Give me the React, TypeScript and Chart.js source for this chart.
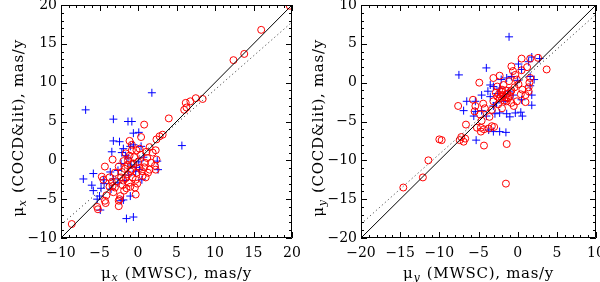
import React, { useEffect, useRef } from "react";
import { Chart, registerables } from "chart.js";

Chart.register(...registerables);

// ---------- data: left panel (mu_x) ----------
const leftRedX = [
  19.7, 16.0, 13.8, 12.4, 8.4, 7.5, 6.8, 6.2, 6.3, 6.0,
  4.0, 0.8, 3.2, 2.8, 2.4, 0.4, -1.1, -8.6, -5.3, -5.2,
  -4.2, -2.5, -2.5, -4.1, -4.3, 2.3, 0.2, -3.3, -0.8, -0.6,
  -4.7, -4.5, -3.4, -3.0, -3.2, -2.3, -4.3, -2.4, -0.4, -1.0,
  -1.9, 2.2, 2.3, 1.5, 0.9, 1.2, 0.4, -0.2, 2.4, -1.3,
  -1.7, -2.1, -2.5, -3.0, -1.3, -0.8, -0.2, 0.2, 0.6, -0.7,
  -1.2, -0.3, -0.3, -1.5, -1.8, -3.7, 1.5, 1.9, 1.1, 1.7,
  -1.1, -0.8, -1.6, -1.9, -3.3, -3.7, 1.0, 0.0, -0.5, -1.4,
  -2.2, -0.9, 1.3, 0.5, -2.8, -1.0, -0.1, -2.0, 0.8, -1.6,
];
const leftRedY = [
  19.9, 16.8, 13.7, 12.9, 7.9, 8.0, 7.6, 7.4, 6.8, 6.5,
  5.4, 4.6, 3.3, 3.1, 2.7, 3.0, 2.5, -8.2, -6.0, -6.3,
  -5.5, -5.2, -5.9, -4.5, -0.8, 1.3, 1.5, 0.1, 2.0, -0.4,
  -2.1, -2.5, -2.8, -3.5, -4.1, -4.6, -5.2, -5.0, -3.5, -3.4,
  -2.6, -0.7, -1.2, -1.2, -0.3, 0.3, 0.7, 1.3, 0.1, 0.0,
  -1.1, -1.5, -0.8, -1.6, -1.8, -1.2, -1.6, -1.0, -2.0, -2.2,
  -2.9, -2.5, -4.4, -3.6, -3.9, -3.4, 1.7, 1.0, 1.1, -0.3,
  0.6, 1.3, 0.9, -0.1, -3.3, -2.2, -2.2, -0.2, 0.4, -0.6,
  -2.2, -0.5, -1.6, -1.4, -2.7, -1.4, -3.0, -3.2, -0.9, -2.3,
];
const leftBlueX = [
  1.8, -6.8, -3.2, -1.3, -0.8, 0.1, -0.6, -3.2, -2.4, 5.7,
  -3.4, -1.9, -2.1, -1.6, -1.0, -0.6, 0.4, 2.5, 2.6, -2.2,
  -2.6, -3.6, -3.2, -7.1, -5.8, -6.0, -5.8, -4.8, -5.0, -4.5,
  -5.3, -3.5, -1.0, -1.9, -4.9, -1.5, -0.6, 0.5, 0.2, -0.3,
  -0.9, 0.1, 0.7, -1.2, -1.7, -2.6, -0.2, -2.2, -4.4, -1.3,
];
const leftBlueY = [
  8.7, 6.5, 5.3, 5.0, 5.0, 3.6, 3.5, 2.5, 2.4, 1.9,
  1.1, 1.5, 1.0, 0.6, 1.8, 2.0, 1.8, -0.1, -1.2, -0.4,
  -1.3, -1.5, -2.4, -2.4, -1.7, -3.2, -3.9, -3.6, -4.6, -2.5,
  -5.0, -3.7, -4.6, -5.1, -6.4, -7.5, -7.3, -2.5, -1.2, -1.4,
  -0.6, -0.2, 0.4, -1.9, -2.6, -2.9, -0.9, -5.2, -3.0, 0.3,
];
const leftLineX = [-10, 20];
const leftSolidY = [-10, 20];
const leftDottedY = [-8.3, 17.8];

// ---------- data: right panel (mu_y) ----------
const rightRedX = [
  -9.7, -7.4, -6.9, -6.7, -7.2, -6.6, -7.6, -4.9, -4.3, -1.4,
  -3.1, -2.3, 0.5, 1.6, 2.6, 3.7, -0.8, -0.6, 0.5, 1.6,
  1.5, 1.4, 1.4, 1.0, 0.4, -5.7, -5.4, -5.5, -4.8, -4.6,
  -5.2, -4.3, -4.7, -3.7, -3.3, -4.2, -3.3, -4.4, -3.1, -2.5,
  -2.8, -2.0, -2.6, -1.8, -2.1, -1.4, -1.4, -0.8, -0.1, -0.8,
  -0.4, 0.1, 0.6, -0.1, -1.1, -1.9, -1.6, -1.3, -1.0, -2.3,
  -1.7, -1.2, -0.9, -2.0, -1.5, -2.6, -2.4, -11.4, -12.1, -14.6,
  -1.5, -10.0, -4.7, -3.0, -2.0, -0.5, 1.0, -3.6, -0.3, 1.2,
];
const rightRedY = [
  -7.4, -7.4, -7.6, -7.2, -7.0, -5.4, -3.0, 0.0, -8.1, -7.9,
  0.6, 0.9, 3.1, 3.1, 3.2, 1.7, 2.1, 1.5, 1.6, 0.6,
  0.0, -0.6, -1.1, -1.6, -1.5, -2.2, -3.0, -3.7, -4.1, -4.9,
  -5.8, -6.0, -6.3, -5.9, -5.6, -3.3, -3.5, -2.7, -2.4, -2.8,
  -1.3, -0.9, -0.5, -0.3, -1.8, -1.9, -2.4, -2.6, -2.4, -1.0,
  -0.6, -0.2, -0.9, 0.4, 0.2, -1.6, -1.9, -1.4, -1.7, -2.0,
  -2.3, -2.0, -1.2, -1.2, -1.0, -1.8, -1.5, -10.0, -12.2, -13.5,
  -13.0, -7.3, -5.8, -5.7, -3.3, -3.0, -2.5, -4.4, 1.0, 2.0,
];
const rightBlueX = [
  -1.1, -7.5, -4.0, 1.8, 2.8, 1.4, 0.1, 0.5, 1.6, 2.1,
  1.6, 1.8, 1.8, 0.5, 0.4, 0.6, -6.5, -6.9, -5.4, -4.6,
  -3.5, -3.8, -3.1, -2.3, -3.5, -1.4, -0.8, -2.1, -1.2, -1.8,
  -2.7, -3.1, -4.6, -4.0, -2.9, -2.3, -1.4, -1.0, -0.3, -5.3,
  -3.7, -3.1, -2.3, -1.5, -5.4, -5.6, 0.0, -1.6, -0.6, -2.6,
];
const rightBlueY = [
  5.9, 1.0, 1.9, 3.3, 3.1, 2.7, 2.4, 1.7, 0.8, 0.4,
  -0.4, -1.6, -2.9, -2.2, -3.8, -4.3, -2.4, -3.6, -2.4, -1.6,
  -1.8, -1.1, -0.5, -0.7, -0.3, 0.6, 0.8, 0.4, -1.1, -1.8,
  -2.6, -3.0, -3.6, -4.3, -4.0, -3.9, -4.0, -4.4, -3.9, -7.4,
  -6.1, -6.3, -6.3, -6.4, -3.7, -4.3, 0.3, -2.4, -1.6, -1.4,
];
const rightLineX = [-20, 10];
const rightSolidY = [-20, 10];
const rightDottedY = [-18.2, 8.8];

// ---------- axes / labels ----------
const leftRange = [-10, 20];
const rightRange = [-20, 10];
const tickStep = 5;
const minorStep = 1;
const leftXTitle = ["μ", "x", " (MWSC), mas/y"];
const leftYTitle = ["μ", "x", " (COCD&lit), mas/y"];
const rightXTitle = ["μ", "y", " (MWSC), mas/y"];
const rightYTitle = ["μ", "y", " (COCD&lit), mas/y"];

const FONT = "'DejaVu Serif', 'Liberation Serif', serif";

const zip = (xs: number[], ys: number[]) => xs.map((x, i) => ({ x, y: ys[i] }));

function drawSubTitle(ctx: CanvasRenderingContext2D, parts: string[], cx: number, cy: number, rotate: boolean) {
  const [sym, sub, rest] = parts;
  const main = `15px ${FONT}`;
  const small = `italic 11px ${FONT}`;
  ctx.save();
  (ctx as any).letterSpacing = "0.7px";
  ctx.font = main;
  const w1 = ctx.measureText(sym).width;
  ctx.font = small;
  const w2 = ctx.measureText(sub).width;
  ctx.font = main;
  const w3 = ctx.measureText(rest).width;
  const total = w1 + w2 + w3 + 1;
  ctx.translate(cx, cy);
  if (rotate) ctx.rotate(-Math.PI / 2);
  ctx.fillStyle = "#000";
  ctx.textBaseline = "alphabetic";
  ctx.textAlign = "left";
  let x = -total / 2;
  ctx.font = main;
  ctx.fillText(sym, x, 0);
  x += w1;
  ctx.font = small;
  ctx.fillText(sub, x, 3);
  x += w2 + 1;
  ctx.font = main;
  ctx.fillText(rest, x, 0);
  ctx.restore();
}

const framePlugin = {
  id: "frame",
  afterDatasetsDraw(chart: any, _args: any, opts: any) {
    const { ctx, chartArea: a, scales } = chart;
    const xs = scales.x;
    const ys = scales.y;
    ctx.save();
    ctx.strokeStyle = "#000";
    ctx.lineWidth = 1;
    ctx.beginPath();
    ctx.rect(Math.round(a.left) + 0.5, Math.round(a.top) + 0.5, Math.round(a.right - a.left) - 1, Math.round(a.bottom - a.top) - 1);
    ctx.stroke();
    ctx.beginPath();
    for (let v = xs.min; v <= xs.max + 1e-9; v += minorStep) {
      const px = Math.round(xs.getPixelForValue(v)) + 0.5;
      const len = Math.abs(v % tickStep) < 1e-9 ? 6 : 3;
      ctx.moveTo(px, a.bottom);
      ctx.lineTo(px, a.bottom - len);
      ctx.moveTo(px, a.top);
      ctx.lineTo(px, a.top + len);
    }
    for (let v = ys.min; v <= ys.max + 1e-9; v += minorStep) {
      const py = Math.round(ys.getPixelForValue(v)) + 0.5;
      const len = Math.abs(v % tickStep) < 1e-9 ? 6 : 3;
      ctx.moveTo(a.left, py);
      ctx.lineTo(a.left + len, py);
      ctx.moveTo(a.right, py);
      ctx.lineTo(a.right - len, py);
    }
    ctx.stroke();
    ctx.restore();
    drawSubTitle(ctx, opts.xTitle, (a.left + a.right) / 2, 278, false);
    drawSubTitle(ctx, opts.yTitle, 23, 128, true);
  },
};

const tickLabel = (v: any) => {
  const n = Number(v);
  return n < 0 ? "\u2212" + Math.abs(n) : String(n);
};

function makeConfig(
  range: number[],
  redX: number[], redY: number[],
  blueX: number[], blueY: number[],
  lineX: number[], solidY: number[], dottedY: number[],
  xTitle: string[], yTitle: string[],
  rightPad: number
): any {
  const axis = (isX: boolean) => ({
    type: "linear",
    min: range[0],
    max: range[1],
    grid: { display: false, drawTicks: false },
    border: { display: false },
    ticks: {
      stepSize: tickStep,
      color: "#000",
      font: { family: FONT, size: 14 },
      padding: isX ? 7 : 4,
      maxRotation: 0,
      autoSkip: false,
      callback: tickLabel,
    },
    afterFit: (s: any) => {
      if (isX) s.height = 44;
      else s.width = 61;
      s.paddingLeft = 0;
      s.paddingRight = 0;
      s.paddingTop = 0;
      s.paddingBottom = 0;
    },
  });
  return {
    type: "scatter",
    data: {
      datasets: [
        {
          type: "line",
          data: zip(lineX, solidY),
          borderColor: "#000",
          borderWidth: 1,
          pointRadius: 0,
          showLine: true,
          order: 0,
        },
        {
          type: "line",
          data: zip(lineX, dottedY),
          borderColor: "#222",
          borderWidth: 1,
          borderDash: [1, 3],
          pointRadius: 0,
          showLine: true,
          order: 0,
        },
        {
          data: zip(redX, redY),
          pointStyle: "circle",
          pointRadius: 3.5,
          borderColor: "#ff0000",
          backgroundColor: "rgba(0,0,0,0)",
          borderWidth: 1,
          order: 1,
        },
        {
          data: zip(blueX, blueY),
          pointStyle: "cross",
          pointRadius: 4,
          borderColor: "#0000ff",
          backgroundColor: "#0000ff",
          borderWidth: 1,
          order: 2,
        },
      ],
    },
    options: {
      animation: false,
      responsive: false,
      devicePixelRatio: 1,
      layout: { padding: { left: 0, right: rightPad, top: 5, bottom: 0 }, autoPadding: false },
      plugins: {
        legend: { display: false },
        tooltip: { enabled: false },
        frame: { xTitle, yTitle },
      },
      scales: { x: axis(true), y: axis(false) },
    },
    plugins: [framePlugin],
  };
}

export default function App() {
  const leftRef = useRef<HTMLCanvasElement>(null);
  const rightRef = useRef<HTMLCanvasElement>(null);

  useEffect(() => {
    const c1 = new Chart(
      leftRef.current as HTMLCanvasElement,
      makeConfig(leftRange, leftRedX, leftRedY, leftBlueX, leftBlueY, leftLineX, leftSolidY, leftDottedY, leftXTitle, leftYTitle, 8)
    );
    const c2 = new Chart(
      rightRef.current as HTMLCanvasElement,
      makeConfig(rightRange, rightRedX, rightRedY, rightBlueX, rightBlueY, rightLineX, rightSolidY, rightDottedY, rightXTitle, rightYTitle, 4)
    );
    return () => {
      c1.destroy();
      c2.destroy();
    };
  }, []);

  return (
    <div style={{ position: "fixed", left: 0, top: 0, width: 600, height: 282, display: "flex", background: "#fff" }}>
      <canvas ref={leftRef} width={300} height={282} style={{ display: "block", width: 300, height: 282 }} />
      <canvas ref={rightRef} width={300} height={282} style={{ display: "block", width: 300, height: 282 }} />
    </div>
  );
}
